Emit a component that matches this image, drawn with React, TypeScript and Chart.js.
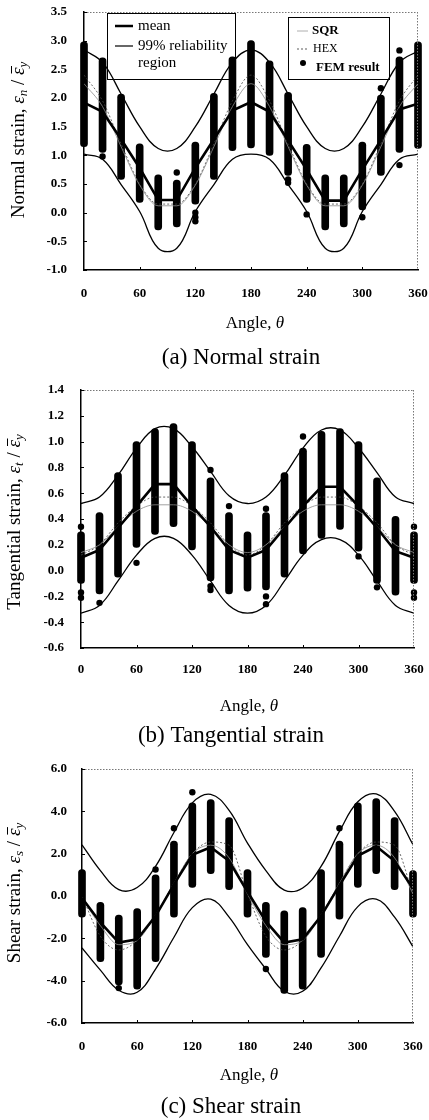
import React, { useEffect, useRef } from "react";
import { Chart, registerables } from "chart.js";

Chart.register(...registerables);

const FONT = "'Liberation Serif', 'Times New Roman', Times, serif";

const angles = [0, 20, 40, 60, 80, 100, 120, 140, 160, 180, 200, 220, 240, 260, 280, 300, 320, 340, 360];
const xTickValues = [0, 60, 120, 180, 240, 300, 360];

// (a) Normal strain
const normalYTicks = [-1.0, -0.5, 0.0, 0.5, 1.0, 1.5, 2.0, 2.5, 3.0, 3.5];
const normalMean = [1.92, 1.76, 1.28, 0.78, 0.22, 0.22, 0.78, 1.28, 1.78, 1.93, 1.76, 1.26, 0.75, 0.21, 0.21, 0.75, 1.27, 1.8, 1.9];
const normalUpper = [2.84, 2.62, 2.07, 1.5, 1.12, 1.12, 1.5, 2.07, 2.62, 2.84, 2.62, 2.07, 1.5, 1.12, 1.12, 1.5, 2.07, 2.62, 2.82];
const normalLower = [1.02, 0.93, 0.49, 0.02, -0.62, -0.62, 0.02, 0.49, 0.93, 1.02, 0.93, 0.49, 0.02, -0.62, -0.62, 0.02, 0.49, 0.93, 1.02];
const normalHex = [2.4, 1.95, 1.2, 0.5, 0.15, 0.15, 0.5, 1.2, 1.95, 2.4, 1.95, 1.2, 0.5, 0.15, 0.15, 0.5, 1.2, 1.95, 2.4];
const normalSqr = [2.25, 1.85, 1.15, 0.48, 0.12, 0.12, 0.48, 1.15, 1.85, 2.25, 1.85, 1.15, 0.48, 0.12, 0.12, 0.48, 1.15, 1.85, 2.25];
const normalFemLow = [1.15, 1.05, 0.58, 0.18, -0.3, -0.25, 0.15, 0.58, 1.08, 1.13, 1.0, 0.65, 0.18, -0.3, -0.25, 0.05, 0.65, 1.05, 1.12];
const normalFemHigh = [2.98, 2.7, 2.07, 1.2, 0.66, 0.57, 1.23, 2.08, 2.72, 3.0, 2.65, 2.1, 1.19, 0.66, 0.66, 1.23, 2.05, 2.72, 2.98];
const normalOutlierAngles = [20, 100, 120, 120, 120, 220, 220, 240, 300, 320, 340, 340];
const normalOutlierValues = [0.98, 0.7, 0.0, -0.08, -0.15, 0.58, 0.52, -0.03, -0.08, 2.17, 2.83, 0.83];

// (b) Tangential strain
const tangYTicks = [-0.6, -0.4, -0.2, 0.0, 0.2, 0.4, 0.6, 0.8, 1.0, 1.2, 1.4];
const tangMean = [0.1, 0.16, 0.33, 0.5, 0.67, 0.67, 0.5, 0.34, 0.16, 0.1, 0.16, 0.33, 0.5, 0.65, 0.65, 0.5, 0.33, 0.15, 0.1];
const tangUpper = [0.52, 0.57, 0.74, 0.95, 1.1, 1.1, 0.96, 0.77, 0.58, 0.52, 0.57, 0.74, 0.95, 1.09, 1.09, 0.95, 0.76, 0.57, 0.52];
const tangLower = [-0.33, -0.27, -0.08, 0.12, 0.25, 0.25, 0.12, -0.08, -0.27, -0.33, -0.27, -0.08, 0.12, 0.24, 0.24, 0.12, -0.08, -0.27, -0.33];
const tangHex = [0.12, 0.2, 0.37, 0.5, 0.57, 0.57, 0.5, 0.37, 0.2, 0.12, 0.2, 0.37, 0.5, 0.57, 0.57, 0.5, 0.37, 0.2, 0.12];
const tangSqr = [0.14, 0.2, 0.34, 0.46, 0.51, 0.51, 0.46, 0.34, 0.2, 0.14, 0.2, 0.34, 0.46, 0.51, 0.51, 0.46, 0.34, 0.2, 0.14];
const tangFemLow = [-0.1, -0.18, -0.05, 0.18, 0.28, 0.34, 0.16, -0.08, -0.18, -0.16, -0.15, -0.05, 0.13, 0.25, 0.32, 0.15, -0.1, -0.19, -0.1];
const tangFemHigh = [0.3, 0.45, 0.76, 1.0, 1.1, 1.14, 1.0, 0.72, 0.45, 0.3, 0.45, 0.76, 0.95, 1.08, 1.1, 1.0, 0.72, 0.42, 0.3];
const tangOutlierAngles = [0, 0, 0, 20, 60, 140, 140, 140, 160, 200, 200, 200, 240, 300, 320, 320, 360, 360, 360];
const tangOutlierValues = [0.34, -0.17, -0.21, -0.25, 0.06, 0.78, -0.12, -0.15, 0.5, 0.48, -0.2, -0.26, 1.04, 0.11, -0.05, -0.13, 0.34, -0.17, -0.21];

// (c) Shear strain
const shearYTicks = [-6, -4, -2, 0, 2, 4, 6];
const shearMean = [-0.1, -1.25, -2.2, -2.05, -0.95, 0.55, 1.95, 2.3, 1.65, 0.2, -1.2, -2.2, -2.05, -0.95, 0.5, 1.9, 2.35, 1.65, 0.35];
const shearUpper = [2.42, 1.2, 0.3, 0.4, 1.4, 3.0, 4.4, 4.8, 4.05, 2.5, 1.2, 0.28, 0.38, 1.4, 3.05, 4.45, 4.82, 4.0, 2.42];
const shearLower = [-2.45, -3.5, -4.45, -4.55, -3.45, -1.95, -0.55, -0.15, -1.0, -2.3, -3.45, -4.5, -4.5, -3.4, -1.9, -0.5, -0.15, -1.0, -2.4];
const shearHex = [0.0, -1.9, -2.55, -2.1, -0.9, 0.6, 2.0, 2.55, 2.4, 0.1, -1.9, -2.55, -2.1, -0.9, 0.6, 2.0, 2.55, 2.4, 0.1];
const shearSqr = [-0.1, -1.4, -2.3, -2.1, -0.9, 0.6, 2.0, 2.4, 1.8, 0.1, -1.4, -2.3, -2.1, -0.9, 0.6, 2.0, 2.4, 1.8, 0.1];
const shearFemLow = [-1.0, -3.1, -4.2, -4.4, -3.1, -1.0, 0.4, 1.05, 0.3, -1.0, -2.9, -4.6, -4.4, -2.9, -1.1, 0.4, 1.05, 0.3, -1.0];
const shearFemHigh = [1.25, -0.3, -0.9, -0.6, 1.0, 2.6, 4.4, 4.55, 3.7, 1.25, -0.3, -0.7, -0.55, 1.25, 2.6, 4.4, 4.6, 3.7, 1.2];
const shearOutlierAngles = [40, 80, 100, 120, 200, 280];
const shearOutlierValues = [-4.35, 1.25, 3.2, 4.9, -3.45, 3.2];

type Part = { t: string; f: string; dy?: number; bar?: boolean };

function drawParts(ctx: CanvasRenderingContext2D, parts: Part[], cx: number, cy: number, rotate: boolean) {
  ctx.save();
  ctx.translate(cx, cy);
  if (rotate) ctx.rotate(-Math.PI / 2);
  const widths = parts.map((p) => {
    ctx.font = p.f;
    return ctx.measureText(p.t).width;
  });
  const total = widths.reduce((s, w) => s + w, 0);
  let x = -total / 2;
  ctx.fillStyle = "#000";
  ctx.strokeStyle = "#000";
  ctx.textAlign = "left";
  ctx.textBaseline = "middle";
  parts.forEach((p, i) => {
    ctx.font = p.f;
    ctx.fillText(p.t, x, p.dy || 0);
    if (p.bar) {
      ctx.lineWidth = 1;
      ctx.beginPath();
      ctx.moveTo(x + 1.5, -7.5);
      ctx.lineTo(x + widths[i] + 1.5, -7.5);
      ctx.stroke();
    }
    x += widths[i];
  });
  ctx.restore();
}

type Spec = {
  key: string;
  top: number;
  height: number;
  padTop: number;
  padRight: number;
  yWidth: number;
  xHeight: number;
  yMin: number;
  yMax: number;
  yTicks: number[];
  xTickPad: number;
  yTickPad: number;
  mean: number[];
  upper: number[];
  lower: number[];
  hex: number[];
  sqr: number[];
  femLow: number[];
  femHigh: number[];
  outAngles: number[];
  outValues: number[];
  yLabel: string;
  ySub: string;
  yTitleX: number;
  yTitleY: number;
  xTitleX: number;
  xTitleY: number;
  caption: string;
  captionX: number;
  captionY: number;
  legend: boolean;
};

const specs: Spec[] = [
  {
    key: "a", top: 0, height: 372, padTop: 12, padRight: 11, yWidth: 84, xHeight: 102,
    yMin: -1, yMax: 3.5, yTicks: normalYTicks, xTickPad: 16, yTickPad: 17,
    mean: normalMean, upper: normalUpper, lower: normalLower, hex: normalHex, sqr: normalSqr,
    femLow: normalFemLow, femHigh: normalFemHigh, outAngles: normalOutlierAngles, outValues: normalOutlierValues,
    yLabel: "Normal strain", ySub: "n", yTitleX: 19, yTitleY: 140,
    xTitleX: 255, xTitleY: 324, caption: "(a) Normal strain", captionX: 241, captionY: 358, legend: true,
  },
  {
    key: "b", top: 372, height: 376, padTop: 18, padRight: 15, yWidth: 81, xHeight: 100,
    yMin: -0.6, yMax: 1.4, yTicks: tangYTicks, xTickPad: 14, yTickPad: 17,
    mean: tangMean, upper: tangUpper, lower: tangLower, hex: tangHex, sqr: tangSqr,
    femLow: tangFemLow, femHigh: tangFemHigh, outAngles: tangOutlierAngles, outValues: tangOutlierValues,
    yLabel: "Tangential strain", ySub: "t", yTitleX: 15, yTitleY: 150,
    xTitleX: 249, xTitleY: 335, caption: "(b) Tangential strain", captionX: 231, captionY: 364, legend: false,
  },
  {
    key: "c", top: 748, height: 372, padTop: 21, padRight: 16, yWidth: 82, xHeight: 97,
    yMin: -6, yMax: 6, yTicks: shearYTicks, xTickPad: 16, yTickPad: 15,
    mean: shearMean, upper: shearUpper, lower: shearLower, hex: shearHex, sqr: shearSqr,
    femLow: shearFemLow, femHigh: shearFemHigh, outAngles: shearOutlierAngles, outValues: shearOutlierValues,
    yLabel: "Shear strain", ySub: "s", yTitleX: 15, yTitleY: 145,
    xTitleX: 249, xTitleY: 328, caption: "(c) Shear strain", captionX: 231, captionY: 359, legend: false,
  },
];

function drawLegend(ctx: CanvasRenderingContext2D) {
  ctx.save();
  ctx.strokeStyle = "#000";
  ctx.lineWidth = 1;
  ctx.setLineDash([]);
  ctx.strokeRect(107.5, 13.5, 128, 66);
  ctx.strokeRect(288.5, 17.5, 101, 62);
  ctx.lineWidth = 2.5;
  ctx.beginPath();
  ctx.moveTo(115, 26);
  ctx.lineTo(133, 26);
  ctx.stroke();
  ctx.lineWidth = 1.2;
  ctx.beginPath();
  ctx.moveTo(115, 46);
  ctx.lineTo(133, 46);
  ctx.stroke();
  ctx.fillStyle = "#000";
  ctx.textAlign = "left";
  ctx.textBaseline = "middle";
  ctx.font = `15px ${FONT}`;
  ctx.fillText("mean", 138, 26);
  ctx.fillText("99% reliability", 138, 46);
  ctx.fillText("region", 138, 63);
  ctx.strokeStyle = "#999";
  ctx.lineWidth = 0.8;
  ctx.beginPath();
  ctx.moveTo(297, 31);
  ctx.lineTo(308, 31);
  ctx.stroke();
  ctx.strokeStyle = "#333";
  ctx.setLineDash([2, 2]);
  ctx.beginPath();
  ctx.moveTo(297, 49);
  ctx.lineTo(308, 49);
  ctx.stroke();
  ctx.setLineDash([]);
  ctx.beginPath();
  ctx.arc(303, 63, 3, 0, Math.PI * 2);
  ctx.fill();
  ctx.font = `bold 13px ${FONT}`;
  ctx.fillText("SQR", 312, 31);
  ctx.font = `12px ${FONT}`;
  ctx.fillText("HEX", 313, 49);
  ctx.font = `bold 13px ${FONT}`;
  ctx.fillText("FEM result", 316, 68);
  ctx.restore();
}

function Panel({ spec }: { spec: Spec }) {
  const ref = useRef<HTMLCanvasElement>(null);
  useEffect(() => {
    const canvas = ref.current;
    if (!canvas) return;
    const pts = (ys: number[]) => angles.map((a, i) => ({ x: a, y: ys[i] }));
    const decor = {
      id: "decor" + spec.key,
      afterDraw(chart: any) {
        const ctx: CanvasRenderingContext2D = chart.ctx;
        const area = chart.chartArea;
        const xs = chart.scales.x;
        const ys = chart.scales.y;
        ctx.save();
        ctx.strokeStyle = "#777";
        ctx.lineWidth = 1;
        ctx.setLineDash([1.5, 1.5]);
        ctx.beginPath();
        ctx.moveTo(area.left, area.top + 0.5);
        ctx.lineTo(area.right, area.top + 0.5);
        ctx.moveTo(area.right - 0.5, area.top);
        ctx.lineTo(area.right - 0.5, area.bottom);
        ctx.stroke();
        ctx.setLineDash([]);
        ctx.strokeStyle = "#000";
        ctx.beginPath();
        xTickValues.forEach((v) => {
          if (v === 0 || v === 360) return;
          const px = Math.round(xs.getPixelForValue(v)) + 0.5;
          ctx.moveTo(px, area.bottom);
          ctx.lineTo(px, area.bottom - 3);
        });
        spec.yTicks.forEach((v) => {
          const py = Math.round(ys.getPixelForValue(v)) + 0.5;
          ctx.moveTo(area.left, py);
          ctx.lineTo(area.left + 3, py);
        });
        ctx.stroke();
        ctx.restore();

        drawParts(ctx, [
          { t: "Angle, ", f: `17px ${FONT}` },
          { t: "θ", f: `italic 17px ${FONT}` },
        ], spec.xTitleX, spec.xTitleY, false);

        ctx.save();
        ctx.fillStyle = "#000";
        ctx.font = `23px ${FONT}`;
        ctx.textAlign = "center";
        ctx.textBaseline = "middle";
        ctx.fillText(spec.caption, spec.captionX, spec.captionY);
        ctx.restore();

        drawParts(ctx, [
          { t: spec.yLabel + ", ", f: `19px ${FONT}` },
          { t: "ε", f: `italic 19px ${FONT}` },
          { t: spec.ySub, f: `italic 13px ${FONT}`, dy: 5 },
          { t: " / ", f: `19px ${FONT}` },
          { t: "ε", f: `italic 19px ${FONT}`, bar: true },
          { t: "y", f: `italic 13px ${FONT}`, dy: 5 },
        ], spec.yTitleX, spec.yTitleY, true);

        if (spec.legend) drawLegend(ctx);
      },
    };

    const chart = new Chart(canvas, {
      type: "line",
      data: {
        datasets: [
          {
            type: "line",
            data: pts(spec.mean),
            borderColor: "#000",
            borderWidth: 2.6,
            pointRadius: 0,
            tension: 0,
            fill: false,
            order: 1,
          },
          {
            type: "line",
            data: pts(spec.upper),
            borderColor: "#000",
            borderWidth: 1.3,
            pointRadius: 0,
            tension: 0.4,
            fill: false,
            order: 1,
          },
          {
            type: "line",
            data: pts(spec.lower),
            borderColor: "#000",
            borderWidth: 1.3,
            pointRadius: 0,
            tension: 0.4,
            fill: false,
            order: 1,
          },
          {
            type: "line",
            data: pts(spec.sqr),
            borderColor: "#8a8a8a",
            borderWidth: 0.8,
            pointRadius: 0,
            cubicInterpolationMode: "monotone",
            fill: false,
            order: 2,
          },
          {
            type: "line",
            data: pts(spec.hex),
            borderColor: "#444",
            borderWidth: 0.8,
            borderDash: [2, 2],
            pointRadius: 0,
            cubicInterpolationMode: "monotone",
            fill: false,
            order: 2,
          },
          {
            type: "bar",
            data: angles.map((a, i) => ({ x: a, y: [spec.femLow[i], spec.femHigh[i]] })),
            backgroundColor: "#000",
            borderWidth: 0,
            barThickness: 7,
            borderRadius: 3.5,
            borderSkipped: false,
            clip: false,
            order: 3,
          } as any,
          {
            type: "scatter",
            data: spec.outAngles.map((a, i) => ({ x: a, y: spec.outValues[i] })),
            backgroundColor: "#000",
            borderWidth: 0,
            pointRadius: 3.2,
            clip: false,
            order: 3,
          } as any,
        ],
      },
      options: {
        animation: false,
        responsive: false,
        maintainAspectRatio: false,
        events: [],
        layout: { padding: { top: spec.padTop, right: spec.padRight, left: 0, bottom: 0 } },
        plugins: { legend: { display: false }, tooltip: { enabled: false }, title: { display: false } },
        scales: {
          x: {
            type: "linear",
            offset: false,
            min: 0,
            max: 360,
            afterBuildTicks: (axis: any) => {
              axis.ticks = xTickValues.map((v) => ({ value: v }));
            },
            afterFit: (axis: any) => {
              axis.height = spec.xHeight;
              axis.paddingLeft = 0;
              axis.paddingRight = 0;
            },
            grid: { display: false, drawTicks: false, offset: false },
            border: { display: true, color: "#000", width: 1.5 },
            ticks: {
              padding: spec.xTickPad,
              color: "#000",
              font: { family: FONT, size: 13, weight: "bold" },
              maxRotation: 0,
              autoSkip: false,
              callback: (v: any) => String(v),
            },
          },
          y: {
            type: "linear",
            min: spec.yMin,
            max: spec.yMax,
            afterBuildTicks: (axis: any) => {
              axis.ticks = spec.yTicks.map((v) => ({ value: v }));
            },
            afterFit: (axis: any) => {
              axis.width = spec.yWidth;
              axis.paddingTop = 0;
              axis.paddingBottom = 0;
            },
            grid: { display: false, drawTicks: false },
            border: { display: true, color: "#000", width: 1.5 },
            ticks: {
              padding: spec.yTickPad,
              color: "#000",
              font: { family: FONT, size: 13, weight: "bold" },
              autoSkip: false,
              callback: (v: any) => Number(v).toFixed(1),
            },
          },
        },
      } as any,
      plugins: [decor],
    });
    return () => chart.destroy();
  }, [spec]);
  return (
    <canvas
      ref={ref}
      width={429}
      height={spec.height}
      style={{ position: "absolute", left: 0, top: spec.top, width: 429, height: spec.height }}
    />
  );
}

export default function App() {
  return (
    <div style={{ position: "absolute", left: 0, top: 0, width: 429, height: 1120, background: "#fff", overflow: "hidden" }}>
      {specs.map((s) => (
        <Panel key={s.key} spec={s} />
      ))}
    </div>
  );
}
